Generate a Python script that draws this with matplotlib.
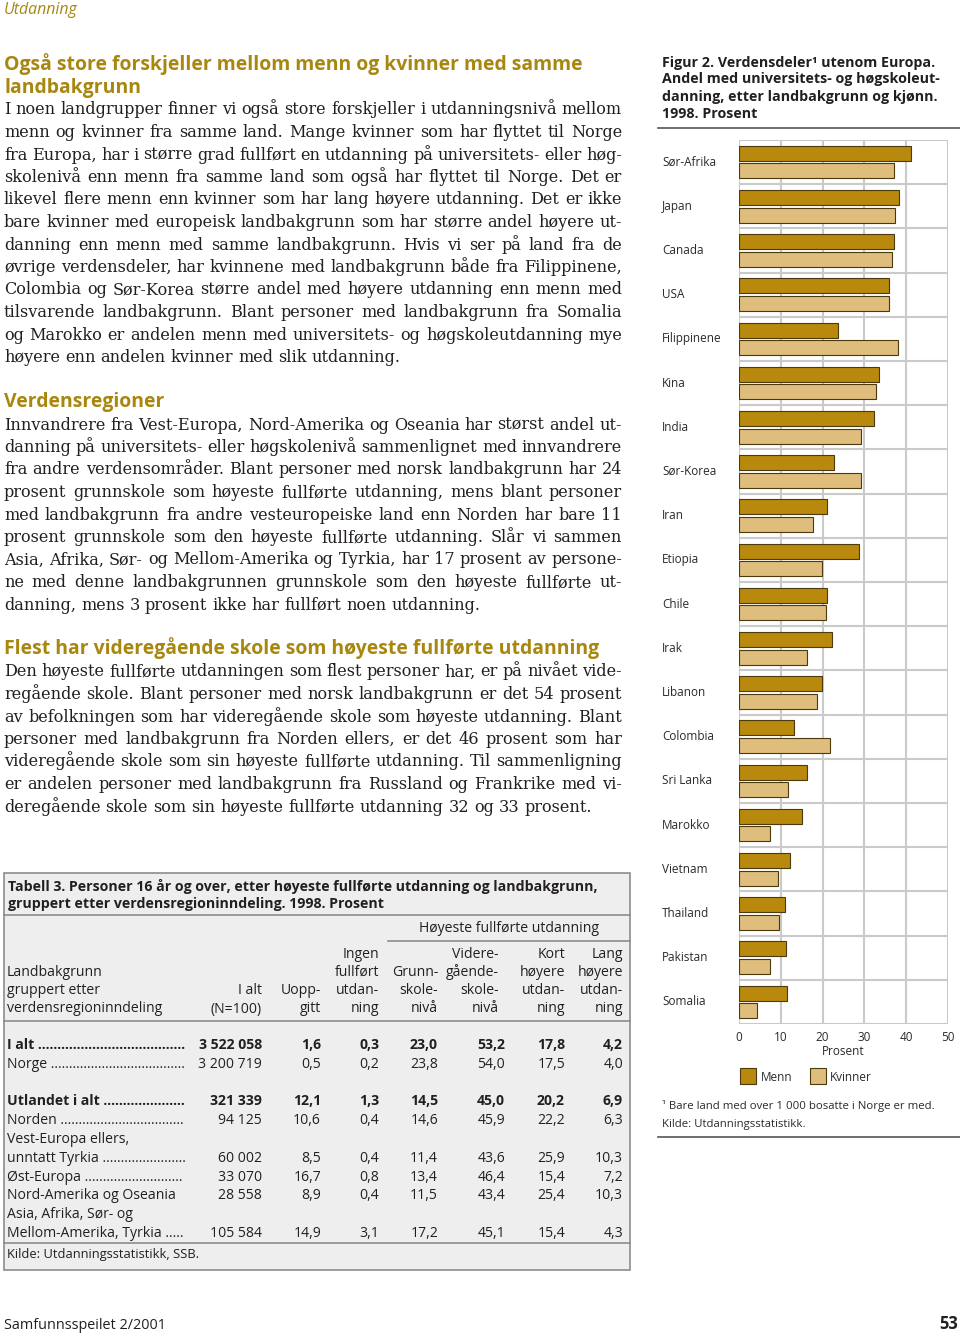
import numpy as np
import matplotlib
matplotlib.use('Agg')
import matplotlib.pyplot as plt
import matplotlib.transforms as mtransforms
from matplotlib.patches import Rectangle

# ---- figur 2: andel med universitets- og høgskoleutdanning ----
countries = ['Sør-Afrika', 'Japan', 'Canada', 'USA', 'Filippinene', 'Kina', 'India',
             'Sør-Korea', 'Iran', 'Etiopia', 'Chile', 'Irak', 'Libanon', 'Colombia',
             'Sri Lanka', 'Marokko', 'Vietnam', 'Thailand', 'Pakistan', 'Somalia']
menn = [41.1, 38.2, 37.0, 35.9, 23.6, 33.6, 32.3, 22.7, 21.1, 28.6,
        21.1, 22.2, 19.8, 13.2, 16.3, 15.0, 12.1, 11.1, 11.2, 11.5]
kvinner = [37.1, 37.3, 36.7, 35.9, 38.0, 32.7, 29.1, 29.3, 17.8, 19.9,
           20.9, 16.2, 18.6, 21.8, 11.8, 7.4, 9.4, 9.6, 7.4, 4.4]
x_ticks = [0, 10, 20, 30, 40, 50]

# ---- tabell 3 ----
tab_labels = [['I alt'], ['Norge'], ['Utlandet i alt'], ['Norden'],
              ['Vest-Europa ellers,', 'unntatt Tyrkia'], ['Øst-Europa'],
              ['Nord-Amerika og Oseania'], ['Asia, Afrika, Sør- og', 'Mellom-Amerika, Tyrkia']]
tab_bold = [True, False, True, False, False, False, False, False]
tab_n = ['3 522 058', '3 200 719', '321 339', '94 125', '60 002', '33 070', '28 558', '105 584']
tab_uoppgitt = [1.6, 0.5, 12.1, 10.6, 8.5, 16.7, 8.9, 14.9]
tab_ingen = [0.3, 0.2, 1.3, 0.4, 0.4, 0.8, 0.4, 3.1]
tab_grunn = [23.0, 23.8, 14.5, 14.6, 11.4, 13.4, 11.5, 17.2]
tab_vgs = [53.2, 54.0, 45.0, 45.9, 43.6, 46.4, 43.4, 45.1]
tab_kort = [17.8, 17.5, 20.2, 22.2, 25.9, 15.4, 25.4, 15.4]
tab_lang = [4.2, 4.0, 6.9, 6.3, 10.3, 7.2, 10.3, 4.3]
tab_heads = [['I alt', '(N=100)'], ['Uopp-', 'gitt'], ['Ingen', 'fullført', 'utdan-', 'ning'],
             ['Grunn-', 'skole-', 'nivå'], ['Videre-', 'gående-', 'skole-', 'nivå'],
             ['Kort', 'høyere', 'utdan-', 'ning'], ['Lang', 'høyere', 'utdan-', 'ning']]

# ---- brødtekst ----
heading1 = ['Også store forskjeller mellom menn og kvinner med samme', 'landbakgrunn']
para1 = ['I noen landgrupper finner vi også store forskjeller i utdanningsnivå mellom',
         'menn og kvinner fra samme land. Mange kvinner som har flyttet til Norge',
         'fra Europa, har i større grad fullført en utdanning på universitets- eller høg-',
         'skolenivå enn menn fra samme land som også har flyttet til Norge. Det er',
         'likevel flere menn enn kvinner som har lang høyere utdanning. Det er ikke',
         'bare kvinner med europeisk landbakgrunn som har større andel høyere ut-',
         'danning enn menn med samme landbakgrunn. Hvis vi ser på land fra de',
         'øvrige verdensdeler, har kvinnene med landbakgrunn både fra Filippinene,',
         'Colombia og Sør-Korea større andel med høyere utdanning enn menn med',
         'tilsvarende landbakgrunn. Blant personer med landbakgrunn fra Somalia',
         'og Marokko er andelen menn med universitets- og høgskoleutdanning mye',
         'høyere enn andelen kvinner med slik utdanning.']
heading2 = ['Verdensregioner']
para2 = ['Innvandrere fra Vest-Europa, Nord-Amerika og Oseania har størst andel ut-',
         'danning på universitets- eller høgskolenivå sammenlignet med innvandrere',
         'fra andre verdensområder. Blant personer med norsk landbakgrunn har 24',
         'prosent grunnskole som høyeste fullførte utdanning, mens blant personer',
         'med landbakgrunn fra andre vesteuropeiske land enn Norden har bare 11',
         'prosent grunnskole som den høyeste fullførte utdanning. Slår vi sammen',
         'Asia, Afrika, Sør- og Mellom-Amerika og Tyrkia, har 17 prosent av persone-',
         'ne med denne landbakgrunnen grunnskole som den høyeste fullførte ut-',
         'danning, mens 3 prosent ikke har fullført noen utdanning.']
heading3 = ['Flest har videregående skole som høyeste fullførte utdanning']
para3 = ['Den høyeste fullførte utdanningen som flest personer har, er på nivået vide-',
         'regående skole. Blant personer med norsk landbakgrunn er det 54 prosent',
         'av befolkningen som har videregående skole som høyeste utdanning. Blant',
         'personer med landbakgrunn fra Norden ellers, er det 46 prosent som har',
         'videregående skole som sin høyeste fullførte utdanning. Til sammenligning',
         'er andelen personer med landbakgrunn fra Russland og Frankrike med vi-',
         'deregående skole som sin høyeste fullførte utdanning 32 og 33 prosent.']

W, H = 960, 1334
gold = '#A8870F'
ink = '#231f20'
c_menn = '#B8890C'
c_kvinner = '#DEBD7D'
grid_c = '#cacaca'
SANS = 'Open Sans'
WORD_GAP = 5.0

fig = plt.figure(figsize=(W / 100, H / 100), dpi=100)
renderer = fig.canvas.get_renderer()
page = fig.add_axes([0, 0, 1, 1])
page.set_xlim(0, W)
page.set_ylim(H, 0)
page.axis('off')


def width_of(s, **kw):
    t = page.text(0, 0, s, **kw)
    w = t.get_window_extent(renderer).width
    t.remove()
    return w


def fit_size(s, target, **kw):
    return 10 * target / width_of(s, fontsize=10, **kw)


def fit_words(s, target, **kw):
    # font size so that words + fixed gaps fill the target width
    words = s.split(' ')
    w10 = sum(width_of(w, fontsize=10, **kw) for w in words)
    return 10 * (target - WORD_GAP * (len(words) - 1)) / w10


def place_words(x0, y, line, fs, gap=None, x1=None, **kw):
    words = line.split(' ')
    ws = [width_of(w, fontsize=fs, **kw) for w in words]
    if gap is None:
        gap = (x1 - x0 - sum(ws)) / (len(words) - 1)
    x = x0
    for w, ww in zip(words, ws):
        page.text(x, y, w, fontsize=fs, va='baseline', ha='left', **kw)
        x += ww + gap


# ---- sidehode / fot ----
fs = fit_size('Utdanning', 74, family=SANS, style='italic')
page.text(4, 14, 'Utdanning', fontsize=fs, family=SANS, style='italic', color=gold, va='baseline')
fs = fit_size('Samfunnsspeilet 2/2001', 162, family=SANS)
page.text(4, 1329, 'Samfunnsspeilet 2/2001', fontsize=fs, family=SANS, color=ink, va='baseline')
page.text(958, 1329, '53', fontsize=fs * 1.15, family=SANS, weight='bold', color=ink,
          va='baseline', ha='right')

# ---- brødtekst ----
body_kw = dict(family='DejaVu Serif', color=ink)
fs_body = np.mean([fit_words(para1[-1], 398, **body_kw),
                   fit_words(para2[-1], 479, **body_kw),
                   fit_words(para3[-1], 588, **body_kw)])
head_kw = dict(family=SANS, weight='bold', color=gold)
fs_head = np.mean([fit_size(heading1[0], 576, **head_kw),
                   fit_size(heading3[0], 596, **head_kw)])

LS = 22.5
for heads, para, hy, py in [(heading1, para1, 70, 114.5),
                            (heading2, para2, 407, 429.5),
                            (heading3, para3, 654, 676.5)]:
    for i, h in enumerate(heads):
        page.text(4, hy + i * 23, h, fontsize=fs_head, va='baseline', **head_kw)
    for i, line in enumerate(para):
        y = py + i * LS
        if i == len(para) - 1:
            place_words(4, y, line, fs_body, gap=WORD_GAP, **body_kw)
        else:
            place_words(4, y, line, fs_body, x1=622, **body_kw)

# ---- tabell 3 ----
page.add_patch(Rectangle((4, 873), 626, 397, facecolor='#eeeeee', edgecolor='#8c8c8c', lw=1.2))
line_c = '#8c8c8c'
for y0, xa in [(915, 4), (1021, 4), (1243, 4)]:
    page.plot([xa, 630], [y0, y0], color=line_c, lw=1.2)
page.plot([388, 630], [941, 941], color=line_c, lw=1.2)

tb_kw = dict(family=SANS, weight='bold', color=ink)
fs_tt = fit_size('Tabell 3. Personer 16 år og over, etter høyeste fullførte utdanning og landbakgrunn,',
                 590, **tb_kw)
page.text(8, 891, 'Tabell 3. Personer 16 år og over, etter høyeste fullførte utdanning og landbakgrunn,',
          fontsize=fs_tt, va='baseline', **tb_kw)
page.text(8, 908, 'gruppert etter verdensregioninndeling. 1998. Prosent',
          fontsize=fs_tt, va='baseline', **tb_kw)

t_kw = dict(family=SANS, color=ink)
fs_t = fit_size('verdensregioninndeling', 154, **t_kw)
page.text(509, 932, 'Høyeste fullførte utdanning', fontsize=fs_t, ha='center', va='baseline', **t_kw)

head_base = [957.5, 975.5, 994, 1012.5]
for i, s in enumerate(['Landbakgrunn', 'gruppert etter', 'verdensregioninndeling']):
    page.text(7, head_base[i + 1], s, fontsize=fs_t, va='baseline', **t_kw)
col_right = [262, 321, 379, 438, 505, 565, 623]
head_right = [262, 321, 379, 438, 499, 565, 623]
for xr, lines in zip(head_right, tab_heads):
    off = 4 - len(lines)
    for j, s in enumerate(lines):
        page.text(xr, head_base[off + j], s, fontsize=fs_t, ha='right', va='baseline', **t_kw)

fmt = lambda v: f'{v:.1f}'.replace('.', ',')
dot_end = 179
y = 1049
for k, lab in enumerate(tab_labels):
    if k == 2:
        y += 18.8
    wt = 'bold' if tab_bold[k] else 'normal'
    for j, s in enumerate(lab):
        if j == len(lab) - 1:
            dots = ''
            while width_of(s + ' ' + dots + '.', fontsize=fs_t, weight=wt, **t_kw) < dot_end:
                dots += '.'
            if len(dots) >= 3:
                s = s + ' ' + dots
        page.text(7, y, s, fontsize=fs_t, weight=wt, va='baseline', **t_kw)
        if j < len(lab) - 1:
            y += 18.8
    vals = [tab_n[k]] + [fmt(v[k]) for v in (tab_uoppgitt, tab_ingen, tab_grunn,
                                              tab_vgs, tab_kort, tab_lang)]
    for xr, s in zip(col_right, vals):
        page.text(xr, y, s, fontsize=fs_t, weight=wt, ha='right', va='baseline', **t_kw)
    y += 18.8
page.text(7, 1258, 'Kilde: Utdanningsstatistikk, SSB.', fontsize=fs_t * 0.92, va='baseline', **t_kw)

# ---- figur 2 tittel ----
ft_kw = dict(family=SANS, weight='bold', color=ink)
fig_title = ['Figur 2. Verdensdeler¹ utenom Europa.', 'Andel med universitets- og høgskoleut-',
             'danning, etter landbakgrunn og kjønn.', '1998. Prosent']
fs_ft = fit_size(fig_title[1], 278, **ft_kw)
for i, s in enumerate(fig_title):
    page.text(662, 66.5 + i * 17, s, fontsize=fs_ft, va='baseline', **ft_kw)
page.plot([658, 960], [128, 128], color='#555555', lw=1.2)
page.plot([658, 960], [1137, 1137], color='#555555', lw=1.2)

# ---- figur 2 diagram ----
ax = fig.add_axes([739 / W, 1 - 1024 / H, 209 / W, 884 / H])
yy = np.arange(len(countries))
ax.barh(yy - 0.2, menn, height=0.34, color=c_menn, edgecolor='#4a3a0c', lw=0.8, zorder=3)
ax.barh(yy + 0.2, kvinner, height=0.34, color=c_kvinner, edgecolor='#4a3a0c', lw=0.8, zorder=3)
ax.set_xlim(0, 50)
ax.set_ylim(len(countries) - 0.5, -0.5)
for xv in x_ticks:
    ax.axvline(xv, color=grid_c, lw=1.5, zorder=1)
for b in np.arange(len(countries) + 1) - 0.5:
    ax.axhline(b, color=grid_c, lw=1.5, zorder=1)
for sp in ax.spines.values():
    sp.set_visible(False)
lab_kw = dict(family=SANS, color='#2a2a2a')
fs_lab = fit_size('Filippinene', 60, **lab_kw)
ax.set_yticks([])
ax.set_xticks(x_ticks)
ax.set_xticklabels([str(v) for v in x_ticks], fontsize=fs_lab, **lab_kw)
ax.tick_params(axis='x', length=0, pad=5)
ax.set_xlabel('Prosent', fontsize=fs_lab, labelpad=1, **lab_kw)
trans = mtransforms.blended_transform_factory(fig.transFigure, ax.transData)
for i, c in enumerate(countries):
    ax.text(662 / W, i, c, transform=trans, fontsize=fs_lab, va='center', ha='left', **lab_kw)

# legende
page.add_patch(Rectangle((740, 1068), 16, 16, facecolor=c_menn, edgecolor='#4a3a0c', lw=0.8))
page.text(761, 1081, 'Menn', fontsize=fs_lab, va='baseline', **lab_kw)
page.add_patch(Rectangle((810, 1068), 16, 16, facecolor=c_kvinner, edgecolor='#4a3a0c', lw=0.8))
page.text(830, 1081, 'Kvinner', fontsize=fs_lab, va='baseline', **lab_kw)

page.text(662, 1109.5, '¹ Bare land med over 1 000 bosatte i Norge er med.', fontsize=fs_lab * 0.97,
          va='baseline', **lab_kw)
page.text(662, 1127.5, 'Kilde: Utdanningsstatistikk.', fontsize=fs_lab * 0.97, va='baseline', **lab_kw)

fig.savefig('out.png', dpi=100)
